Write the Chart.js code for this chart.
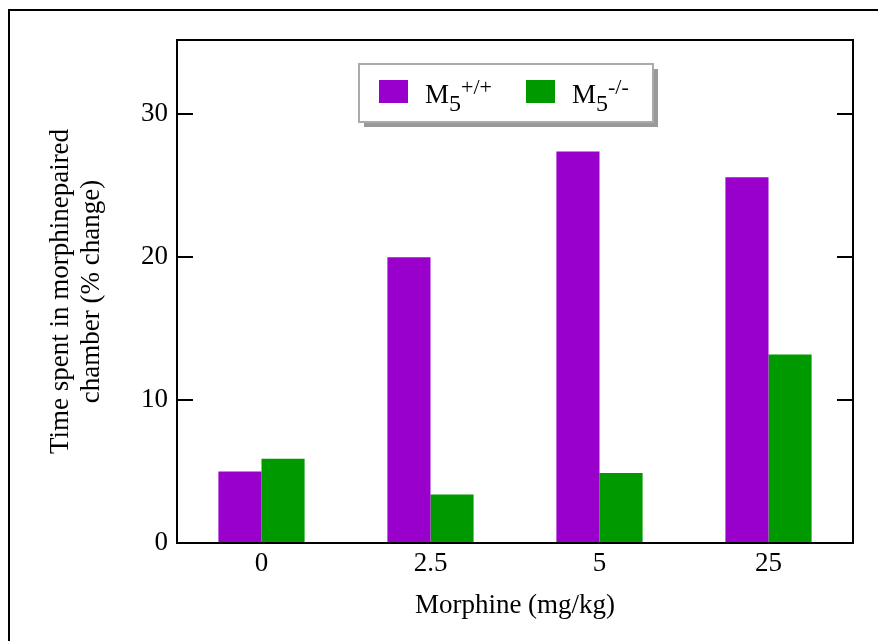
<!DOCTYPE html>
<html>
<head>
<meta charset="utf-8">
<script src="https://cdn.jsdelivr.net/npm/chart.js@4.4.1/dist/chart.umd.min.js"></script>
<style>
  html, body { margin: 0; padding: 0; background: #fff; }
  canvas { display: block; }
</style>
</head>
<body>
<canvas id="chart" width="878" height="641"></canvas>
<script>
// ===========================
// Data
// ===========================
const doses = ['0', '2.5', '5', '25'];
const wildType = [5.0, 20.0, 27.4, 25.6];   // M5 +/+
const knockout = [5.9, 3.4, 4.9, 13.2];     // M5 -/-
const seriesBase = ['M', 'M'];
const seriesSub = ['5', '5'];
const seriesSup = ['+/+', '-/-'];
const yTicks = [0, 10, 20, 30];

const PURPLE = '#9900cc';
const GREEN = '#009900';
const SERIF = '"Liberation Serif", "Times New Roman", serif';

// ===========================
// Plugins
// ===========================
const framePlugin = {
  id: 'frame',
  beforeDraw(chart) {
    const c = chart.ctx;
    c.save();
    c.fillStyle = '#fff';
    c.fillRect(0, 0, chart.width, chart.height);
    c.strokeStyle = '#000';
    c.lineWidth = 2;
    c.beginPath();
    c.moveTo(9, chart.height + 5);
    c.lineTo(9, 10);
    c.lineTo(chart.width + 5, 10);
    c.stroke();
    c.restore();
  },
  afterDatasetsDraw(chart) {
    const c = chart.ctx;
    const a = chart.chartArea;
    const y = chart.scales.y;
    c.save();
    c.strokeStyle = '#000';
    c.lineWidth = 2;
    c.strokeRect(a.left, a.top, a.right - a.left, a.bottom - a.top);
    yTicks.forEach(v => {
      if (v === 0) return;
      const py = Math.round(y.getPixelForValue(v));
      c.beginPath();
      c.moveTo(a.left, py); c.lineTo(a.left + 16, py);
      c.moveTo(a.right, py); c.lineTo(a.right - 16, py);
      c.stroke();
    });
    c.restore();
  }
};

const legendPlugin = {
  id: 'subLegend',
  afterDraw(chart) {
    const c = chart.ctx;
    const bx = 359, by = 64, bw = 294, bh = 58;
    c.save();
    c.fillStyle = '#999';
    c.fillRect(bx + 5, by + 5, bw, bh);
    c.fillStyle = '#fff';
    c.fillRect(bx, by, bw, bh);
    c.strokeStyle = '#aaa';
    c.lineWidth = 2;
    c.strokeRect(bx, by, bw, bh);

    const xs = [379, 526];
    chart.data.datasets.forEach((ds, i) => {
      const x = xs[i];
      c.fillStyle = ds.backgroundColor;
      c.fillRect(x, 80, 29, 23);
      c.fillStyle = '#000';
      c.textBaseline = 'alphabetic';
      c.textAlign = 'left';
      c.font = '27px ' + SERIF;
      let tx = x + 46;
      c.fillText(seriesBase[i], tx, 103);
      tx += c.measureText(seriesBase[i]).width;
      c.font = '24px ' + SERIF;
      c.fillText(seriesSub[i], tx, 111);
      tx += c.measureText(seriesSub[i]).width;
      c.font = '22px ' + SERIF;
      c.fillText(seriesSup[i], tx, 94);
    });
    c.restore();
  }
};

// ===========================
// Chart
// ===========================
new Chart(document.getElementById('chart').getContext('2d'), {
  type: 'bar',
  data: {
    labels: doses,
    datasets: [
      { label: 'M5+/+', data: wildType, backgroundColor: PURPLE, borderWidth: 0,
        categoryPercentage: 0.51, barPercentage: 1.0 },
      { label: 'M5-/-', data: knockout, backgroundColor: GREEN, borderWidth: 0,
        categoryPercentage: 0.51, barPercentage: 1.0 },
    ]
  },
  options: {
    responsive: false,
    animation: false,
    layout: { padding: { top: 40, right: 25, bottom: 0, left: 0 } },
    plugins: {
      legend: { display: false },
      tooltip: { enabled: false }
    },
    scales: {
      x: {
        grid: { display: false, drawTicks: false },
        border: { display: false },
        ticks: { color: '#000', font: { family: SERIF, size: 27 }, padding: 5 },
        title: {
          display: true,
          text: 'Morphine (mg/kg)',
          color: '#000',
          font: { family: SERIF, size: 27, lineHeight: 1.15 },
          padding: { top: 0, bottom: 20 }
        },
        afterFit: s => { s.height = 98; }
      },
      y: {
        min: 0,
        max: 35.2,
        grid: { display: false, drawTicks: false },
        border: { display: false },
        ticks: {
          stepSize: 10,
          includeBounds: false,
          color: '#000',
          font: { family: SERIF, size: 27 },
          padding: 9
        },
        afterBuildTicks: s => { s.ticks = yTicks.map(v => ({ value: v })); },
        title: {
          display: true,
          text: ['Time spent in morphinepaired', 'chamber (% change)'],
          color: '#000',
          font: { family: SERIF, size: 27, lineHeight: 1.15 },
          padding: { top: 45, bottom: 0 }
        },
        afterFit: s => { s.width = 177; }
      }
    }
  },
  plugins: [framePlugin, legendPlugin]
});
</script>
</body>
</html>
